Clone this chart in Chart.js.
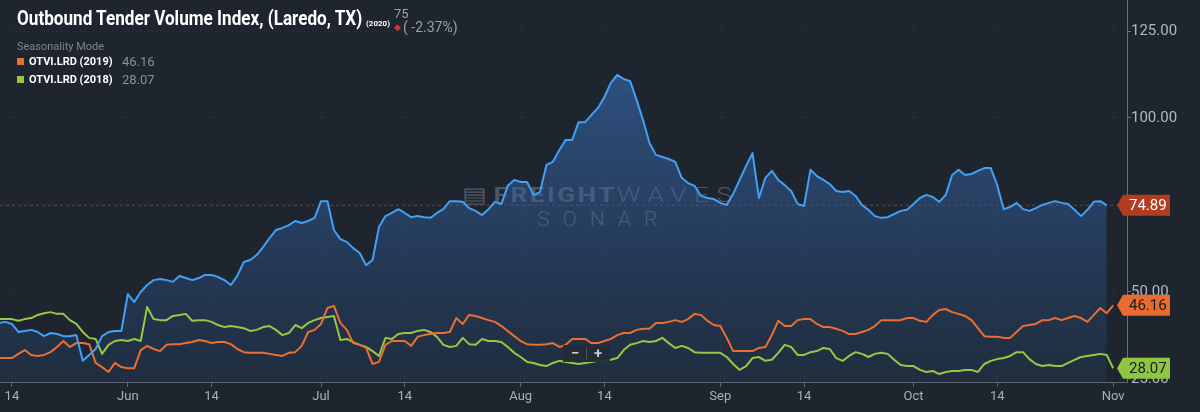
<!DOCTYPE html>
<html>
<head>
<meta charset="utf-8">
<script src="https://cdn.jsdelivr.net/npm/chart.js@4.4.0/dist/chart.umd.min.js"></script>
<style>
html, body { margin: 0; padding: 0; background: #1e252e; }
#wrap { position: relative; width: 1200px; height: 412px; overflow: hidden; font-family: Roboto, "Noto Sans", sans-serif; }
#chart { position: absolute; left: 0; top: 0; }
.abs { position: absolute; white-space: nowrap; }
#title { left: 17px; top: 6px; font-size: 21px; font-weight: 700; color: #fff; transform: scaleX(0.815); transform-origin: 0 0; }
#year { left: 366px; top: 19px; font-size: 8px; font-weight: 700; color: #fff; }
#last { left: 394px; top: 6px; font-size: 13px; color: #9aa0a8; }
#chg { left: 394px; top: 19px; font-size: 14px; color: #9aa0a8; }
#chg i { font-style: normal; color: #e0302a; font-size: 9px; vertical-align: 2px; margin-right: 2px; }
#mode { left: 17px; top: 40px; font-size: 11px; color: #7d848d; }
.leg { left: 17px; font-size: 11px; font-weight: 700; color: #fff; }
.leg b { display: inline-block; width: 7px; height: 7px; margin-right: 5px; vertical-align: 0px; }
.legv { left: 122px; font-size: 13px; color: #8a9098; }
#fw { left: 462px; top: 183px; font-size: 21px; color: rgba(150,160,175,0.42); transform: scaleX(1.25); transform-origin: 0 0; }
#fw .f { font-weight: 700; letter-spacing: 2px; }
#fw .w { font-weight: 300; letter-spacing: 6px; }
#sonar { left: 537px; top: 207px; font-size: 21px; font-weight: 300; letter-spacing: 13px; color: rgba(150,160,175,0.45); }
#zoomctl { left: 563px; top: 345px; width: 47px; height: 17px; background: rgba(36,43,53,0.92); color: #c4c9cf; font-size: 15px; font-weight: 700; line-height: 17px; }
#zoomctl span { position: absolute; top: 0; }
</style>
</head>
<body>
<div id="wrap">
  <div class="abs" id="fw"><span style="font-weight:300">&#9636;</span> <span class="f">FREIGHT</span><span class="w">WAVES</span></div>
  <div class="abs" id="sonar">SONAR</div>
  <canvas id="chart" width="1200" height="412"></canvas>
  <div class="abs" id="title">Outbound Tender Volume Index, (Laredo, TX)</div>
  <div class="abs" id="year">(2020)</div>
  <div class="abs" id="last">75</div>
  <div class="abs" id="chg"><i>&#9670;</i>( -2.37%)</div>
  <div class="abs" id="mode">Seasonality Mode</div>
  <div class="abs leg" style="top:55px"><b style="background:#eb6e32"></b>OTVI.LRD (2019)</div>
  <div class="abs legv" style="top:54px">46.16</div>
  <div class="abs leg" style="top:73px"><b style="background:#96c846"></b>OTVI.LRD (2018)</div>
  <div class="abs legv" style="top:72px">28.07</div>
  <div class="abs" id="zoomctl"><span style="left:8px">&minus;</span><span style="left:23px;top:2px;width:1px;height:13px;background:#4a525d"></span><span style="left:31px">+</span></div>
</div>
<script>
// day 0 = May 12 (2020 calendar), one value per day
const tickDays = [2, 20, 33, 50, 63, 81, 94, 112, 125, 142, 155, 173];
const tickLabels = ["14", "Jun", "14", "Jul", "14", "Aug", "14", "Sep", "14", "Oct", "14", "Nov"];
const yTicks = [25, 50, 75, 100, 125];

const otvi2020 = [
  41.1, 41.4, 40.8, 38.5, 38.8, 39.1, 38.5, 37.3, 38.2, 37.9, 37.3, 37.3, 37.6, 30.2, 31.9, 33.6, 37.3, 38.5, 38.8, 38.8,
  49.4, 47.1, 50.0, 52.0, 53.4, 53.7, 53.4, 52.9, 54.6, 54.0, 53.4, 54.0, 54.9, 54.9, 54.3, 53.4, 52.0, 54.6, 58.6, 59.2,
  60.6, 62.9, 65.5, 67.8, 68.4, 69.2, 70.4, 69.8, 70.4, 71.3, 76.1, 76.1, 67.8, 65.2, 64.4, 62.6, 61.2, 57.7, 59.2, 68.7,
  71.8, 72.7, 73.8, 72.7, 71.5, 71.8, 71.5, 71.3, 72.7, 73.8, 76.1, 76.1, 75.9, 74.1, 73.3, 72.1, 73.8, 75.9, 75.3, 80.5,
  82.2, 81.6, 81.6, 77.9, 78.7, 86.5, 87.4, 90.8, 93.7, 93.7, 98.8, 98.8, 100.9, 102.9, 106.0, 110.1, 112.4, 111.2, 110.6, 105.2,
  99.4, 92.8, 89.4, 88.8, 88.2, 87.4, 82.8, 81.3, 80.5, 77.6, 77.0, 76.7, 75.6, 75.0, 78.2, 82.2, 86.2, 89.9, 77.0, 82.8,
  84.8, 82.2, 80.7, 79.0, 75.3, 74.7, 85.1, 83.3, 82.2, 81.0, 79.0, 78.7, 79.0, 77.6, 75.0, 73.6, 71.8, 71.3, 71.5, 72.4,
  73.3, 73.6, 75.3, 77.0, 77.9, 77.3, 75.9, 77.9, 83.6, 85.1, 83.6, 83.9, 84.8, 85.6, 85.6, 80.7, 73.8, 74.4, 75.6, 73.8,
  73.3, 74.1, 75.0, 75.6, 76.1, 75.6, 75.3, 73.6, 71.8, 73.6, 75.9, 76.1, 74.89
];
const otvi2019 = [
  31.0, 31.0, 31.0, 32.2, 33.3, 31.9, 31.6, 31.9, 32.7, 34.2, 35.9, 34.2, 35.3, 35.3, 35.0, 29.6, 28.4, 27.0, 29.6, 28.4,
  28.1, 28.1, 33.3, 34.5, 33.6, 33.0, 34.8, 35.0, 35.0, 35.3, 35.6, 36.2, 35.9, 35.3, 35.6, 35.6, 35.0, 33.6, 32.7, 32.5,
  32.5, 32.5, 32.2, 31.9, 31.6, 32.5, 32.7, 34.5, 38.5, 39.1, 40.8, 45.4, 46.0, 41.1, 39.1, 35.3, 34.8, 33.9, 29.3, 29.9,
  34.8, 35.9, 35.9, 35.9, 34.5, 37.1, 37.6, 37.9, 38.2, 38.2, 38.5, 42.5, 40.8, 43.4, 43.1, 42.5, 41.9, 41.4, 40.2, 38.8,
  37.3, 35.9, 35.0, 34.8, 34.8, 35.0, 35.3, 34.2, 34.8, 36.5, 36.5, 36.5, 35.3, 35.3, 35.9, 36.5, 37.6, 38.2, 38.2, 39.1,
  39.4, 39.4, 41.1, 41.1, 41.4, 41.9, 41.4, 42.2, 43.7, 43.4, 41.7, 40.5, 40.2, 36.8, 33.0, 33.0, 33.0, 33.0, 33.9, 34.2,
  37.6, 41.7, 40.2, 40.2, 41.9, 42.2, 42.2, 40.8, 39.9, 39.9, 39.4, 38.8, 37.9, 37.9, 38.5, 39.1, 40.2, 41.9, 41.9, 41.9,
  41.9, 42.5, 42.5, 41.7, 41.4, 43.4, 44.8, 45.1, 44.2, 43.7, 43.1, 41.9, 39.6, 37.3, 37.1, 37.1, 36.8, 36.8, 38.5, 40.2,
  40.5, 40.8, 41.9, 41.9, 42.5, 41.9, 42.5, 43.1, 42.5, 41.4, 43.4, 45.4, 43.9, 46.16
];
const otvi2018 = [
  42.2, 42.2, 42.2, 41.7, 42.2, 42.5, 43.4, 43.9, 44.2, 43.7, 43.7, 41.9, 40.8, 38.5, 36.8, 36.5, 32.2, 34.8, 35.9, 36.2,
  35.9, 36.5, 35.9, 45.7, 42.2, 41.9, 41.9, 43.1, 43.4, 43.7, 41.7, 41.9, 41.9, 41.4, 40.5, 39.9, 40.2, 39.9, 39.6, 38.8,
  39.1, 39.9, 40.2, 39.1, 37.6, 38.2, 40.5, 39.6, 41.1, 41.9, 42.5, 42.8, 43.1, 36.2, 36.5, 35.6, 34.8, 34.2, 33.0, 31.6,
  36.8, 36.5, 37.9, 38.2, 38.2, 38.8, 39.1, 38.5, 37.1, 34.8, 34.2, 34.5, 36.8, 35.0, 34.8, 36.5, 35.9, 35.9, 35.6, 34.2,
  32.5, 31.3, 29.9, 29.6, 29.0, 28.7, 29.6, 30.2, 29.9, 29.6, 29.3, 29.6, 29.9, 30.2, 30.2, 30.5, 31.0, 33.3, 34.8, 35.3,
  35.9, 35.6, 35.9, 36.8, 35.3, 33.9, 34.5, 33.9, 32.7, 32.5, 32.5, 32.5, 32.5, 31.3, 29.3, 27.6, 28.7, 31.0, 31.3, 30.2,
  30.5, 32.5, 34.8, 34.2, 31.9, 31.9, 32.7, 33.0, 33.9, 33.6, 31.0, 30.2, 31.6, 32.7, 32.2, 31.3, 32.2, 32.5, 32.2, 30.5,
  29.0, 28.7, 28.7, 27.6, 27.0, 27.3, 26.4, 27.0, 27.3, 27.3, 27.6, 27.6, 27.0, 29.3, 30.2, 30.7, 31.0, 31.6, 32.7, 32.7,
  30.7, 29.3, 28.7, 29.0, 28.7, 28.7, 29.6, 30.5, 31.3, 31.6, 31.9, 32.2, 31.9, 28.07
];

const toPoints = arr => arr.map((v, i) => ({ x: i, y: v }));

// last-value tags on the right axis
const tagPlugin = {
  id: "tags",
  beforeDatasetsDraw(chart) {
    const { ctx, chartArea, scales } = chart;
    const py = scales.y.getPixelForValue(otvi2020[otvi2020.length - 1]);
    ctx.save();
    ctx.strokeStyle = "rgba(170,60,45,0.7)";
    ctx.lineWidth = 1;
    ctx.setLineDash([3, 3]);
    ctx.beginPath();
    ctx.moveTo(chartArea.left, py);
    ctx.lineTo(chartArea.right, py);
    ctx.stroke();
    ctx.restore();
  },
  afterDraw(chart) {
    const { ctx, chartArea, scales } = chart;
    const tags = [
      { v: otvi2020[otvi2020.length - 1], bg: "#b23c1f", fg: "#ffffff" },
      { v: otvi2019[otvi2019.length - 1], bg: "#e86b2f", fg: "#1a1d22" },
      { v: otvi2018[otvi2018.length - 1], bg: "#8fc640", fg: "#1a1d22" }
    ];
    ctx.save();
    tags.forEach(t => {
      const py = scales.y.getPixelForValue(t.v);
      const tip = chartArea.right - 10;
      const l = tip + 6, r = tip + 53, h = 10.5;
      ctx.fillStyle = t.bg;
      ctx.beginPath();
      ctx.moveTo(tip, py);
      ctx.lineTo(l, py - h);
      ctx.lineTo(r, py - h);
      ctx.lineTo(r, py + h);
      ctx.lineTo(l, py + h);
      ctx.closePath();
      ctx.fill();
      ctx.fillStyle = t.fg;
      ctx.font = "15px Roboto";
      ctx.textBaseline = "middle";
      ctx.fillText(t.v.toFixed(2), l + 6, py + 1);
    });
    ctx.restore();
  }
};

const ctx = document.getElementById("chart").getContext("2d");
const fill = ctx.createLinearGradient(0, 60, 0, 382);
fill.addColorStop(0, "rgba(58,110,180,0.62)");
fill.addColorStop(0.5, "rgba(52,98,165,0.42)");
fill.addColorStop(1, "rgba(45,85,145,0.18)");

new Chart(ctx, {
  type: "line",
  data: {
    datasets: [
      { label: "OTVI.LRD (2020)", data: toPoints(otvi2020), borderColor: "#42a0f5", backgroundColor: fill, fill: "start" },
      { label: "OTVI.LRD (2019)", data: toPoints(otvi2019), borderColor: "#eb6e32", fill: false },
      { label: "OTVI.LRD (2018)", data: toPoints(otvi2018), borderColor: "#96c846", fill: false }
    ]
  },
  options: {
    responsive: false,
    animation: false,
    devicePixelRatio: 1,
    layout: { padding: 0 },
    elements: {
      point: { radius: 0 },
      line: { borderWidth: 2, tension: 0, borderJoinStyle: "round" }
    },
    plugins: {
      legend: { display: false },
      tooltip: { enabled: false },
      filler: { drawTime: "beforeDatasetsDraw" }
    },
    scales: {
      x: {
        type: "linear",
        min: 0.15,
        max: 175.15,
        afterBuildTicks: s => { s.ticks = tickDays.map(v => ({ value: v })); },
        afterFit: s => { s.height = 30; s.paddingLeft = 0; s.paddingRight = 0; },
        ticks: {
          color: "#aab0b8",
          font: { size: 13, family: "Roboto" },
          padding: 2,
          maxRotation: 0,
          autoSkip: false,
          callback: (v, i) => tickLabels[i]
        },
        grid: { color: "rgba(255,255,255,0.07)", tickColor: "#5d6570", tickLength: 5 },
        border: { color: "#5d6570", width: 1, dash: [1, 3] }
      },
      y: {
        position: "right",
        min: 24.12,
        max: 133.91,
        afterBuildTicks: s => { s.ticks = yTicks.map(v => ({ value: v })); },
        afterFit: s => { s.width = 73; s.paddingTop = 0; s.paddingBottom = 0; },
        ticks: {
          color: "#b2b8bf",
          font: { size: 15, family: "Roboto" },
          padding: 0,
          callback: v => v.toFixed(2)
        },
        grid: { color: "rgba(255,255,255,0.08)", tickColor: "#6a717b", tickLength: 4 },
        border: { color: "#6a717b", width: 1, dash: [1, 3] }
      }
    }
  },
  plugins: [tagPlugin]
});
</script>
</body>
</html>
